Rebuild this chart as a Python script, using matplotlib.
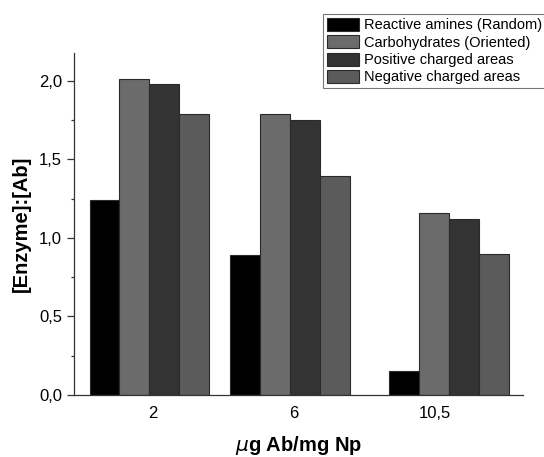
import matplotlib
matplotlib.use("Agg")
import matplotlib.pyplot as plt
from matplotlib.ticker import MultipleLocator, FuncFormatter

plt.rcParams['font.family'] = ['Liberation Sans', 'DejaVu Sans']

groups = [2, 6, 10.5]
group_labels = ["2", "6", "10,5"]
series_names = ["Reactive amines (Random)", "Carbohydrates (Oriented)",
                "Positive charged areas", "Negative charged areas"]
reactive = [1.24, 0.89, 0.155]
carbo = [2.01, 1.79, 1.157]
positive = [1.98, 1.75, 1.118]
negative = [1.79, 1.395, 0.90]
series = [reactive, carbo, positive, negative]
colors = ["#000000", "#6b6b6b", "#333333", "#5b5b5b"]

fig = plt.figure(figsize=(5.44, 4.57), dpi=100)
ax = fig.add_axes([74 / 544, 1 - 395 / 457, (523 - 74) / 544, (395 - 53.3) / 457])

w = 0.85
for i, (vals, name, c) in enumerate(zip(series, series_names, colors)):
    xs = [g + (i - 1.5) * w for g in groups]
    ax.bar(xs, vals, width=w, color=c, edgecolor="#2a2a2a", linewidth=0.8, label=name)

ax.set_xlim(-0.14, 12.6)
ax.set_ylim(0, 2.175)
ax.set_xticks([2.1, 6.1, 10.1])
ax.set_xticklabels(group_labels)
ax.tick_params(axis='x', length=0, pad=8, labelsize=12)
ax.yaxis.set_major_locator(MultipleLocator(0.5))
ax.yaxis.set_minor_locator(MultipleLocator(0.25))
ax.yaxis.set_major_formatter(FuncFormatter(lambda v, p: f"{v:.1f}".replace('.', ',')))
ax.tick_params(axis='y', which='major', length=5, width=0.9, labelsize=12, color="#333333")
ax.tick_params(axis='y', which='minor', length=2.5, width=0.9, color="#333333")

for s in ['top', 'right']:
    ax.spines[s].set_visible(False)
for s in ['left', 'bottom']:
    ax.spines[s].set_linewidth(0.9)
    ax.spines[s].set_color("#333333")

ax.set_ylabel("[Enzyme]:[Ab]", fontsize=14.5, fontweight='bold', labelpad=6)
ax.set_xlabel(r"$\mu$g Ab/mg Np", fontsize=14.5, fontweight='bold', labelpad=9)

leg = fig.legend(loc='upper left', bbox_to_anchor=(323 / 544, 1 - 14 / 457),
                 fontsize=10.5, frameon=True, fancybox=False, edgecolor="#555555",
                 borderpad=0.25, labelspacing=0.2, handlelength=2.2, handleheight=1.0,
                 handletextpad=0.35, borderaxespad=0)
leg.get_frame().set_linewidth(0.8)

fig.savefig("out.png", dpi=100)
